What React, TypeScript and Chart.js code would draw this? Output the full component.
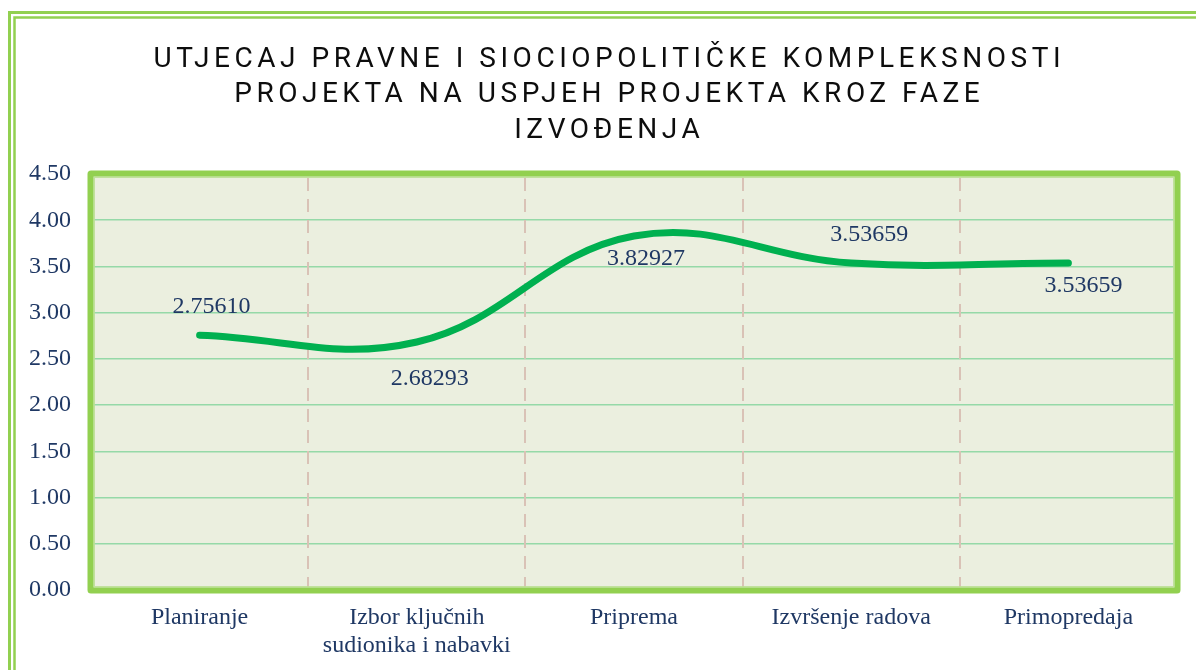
import React, { useEffect, useRef } from 'react';
import { Chart, registerables } from 'chart.js';

Chart.register(...registerables);

const titleLines = [
  'UTJECAJ PRAVNE I SIOCIOPOLITIČKE KOMPLEKSNOSTI',
  'PROJEKTA NA USPJEH PROJEKTA KROZ FAZE',
  'IZVOĐENJA',
];
const categories = [
  ['Planiranje'],
  ['Izbor ključnih', 'sudionika i nabavki'],
  ['Priprema'],
  ['Izvršenje radova'],
  ['Primopredaja'],
];
const values = [2.7561, 2.68293, 3.82927, 3.53659, 3.53659];
const yMin = 0;
const yMax = 4.5;
const yStep = 0.5;
// label placement relative to each point (dx, dy)
const labelOffsets = [
  [12, -29],
  [13, 37],
  [12, 23],
  [18, -28],
  [15, 23],
];

const TEXT_COLOR = '#1F3864';
const FRAME_GREEN = '#92D050';
const LINE_GREEN = '#00B050';
const SERIF = '"Liberation Serif", "Times New Roman", serif';

const decorPlugin = {
  id: 'decor',
  beforeDraw(chart: any) {
    const { ctx, chartArea: a, width, height } = chart;
    ctx.save();
    ctx.fillStyle = '#ffffff';
    ctx.fillRect(0, 0, width, height);
    // outer double frame
    ctx.strokeStyle = FRAME_GREEN;
    ctx.lineWidth = 3;
    ctx.strokeRect(9.5, 12.5, width + 200, height + 200);
    ctx.lineWidth = 2.5;
    ctx.strokeRect(14.5, 17.5, width + 200, height + 200);
    // plot background
    ctx.fillStyle = '#EBEFDF';
    ctx.fillRect(a.left, a.top, a.right - a.left, a.bottom - a.top);
    ctx.restore();
  },
  beforeDatasetsDraw(chart: any) {
    const { ctx, chartArea: a } = chart;
    const xs = chart.scales.x;
    ctx.save();
    ctx.strokeStyle = '#D9C2B6';
    ctx.lineWidth = 2;
    ctx.setLineDash([13, 8]);
    for (let i = 1; i < categories.length; i++) {
      const x = Math.round((xs.getPixelForTick(i - 1) + xs.getPixelForTick(i)) / 2);
      ctx.beginPath();
      ctx.moveTo(x, a.top + 4);
      ctx.lineTo(x, a.bottom);
      ctx.stroke();
    }
    ctx.setLineDash([]);
    // plot border
    ctx.lineJoin = 'round';
    ctx.strokeStyle = FRAME_GREEN;
    ctx.lineWidth = 7;
    ctx.strokeRect(a.left, a.top, a.right - a.left, a.bottom - a.top);
    ctx.strokeStyle = '#C2E2A0';
    ctx.lineWidth = 1.5;
    ctx.strokeRect(a.left + 3, a.top + 3, a.right - a.left - 6, a.bottom - a.top - 6);
    ctx.restore();
  },
  afterDatasetsDraw(chart: any) {
    const { ctx } = chart;
    const meta = chart.getDatasetMeta(0);
    ctx.save();
    ctx.font = `24px ${SERIF}`;
    ctx.fillStyle = TEXT_COLOR;
    ctx.textAlign = 'center';
    ctx.textBaseline = 'middle';
    meta.data.forEach((pt: any, i: number) => {
      const [dx, dy] = labelOffsets[i];
      ctx.fillText(values[i].toFixed(5), pt.x + dx, pt.y + dy);
    });
    ctx.restore();
  },
  afterDraw(chart: any) {
    const { ctx } = chart;
    ctx.save();
    ctx.font = '400 28px Roboto, "DejaVu Sans", sans-serif';
    ctx.fillStyle = '#0D0D0D';
    ctx.textAlign = 'center';
    ctx.textBaseline = 'alphabetic';
    (ctx as any).letterSpacing = '0px';
    const w = ctx.measureText(titleLines[0]).width;
    const sp = (907 - w) / (titleLines[0].length - 1);
    (ctx as any).letterSpacing = `${sp}px`;
    const cx = 607;
    const baselines = [66.5, 102, 137.5];
    titleLines.forEach((line, i) => {
      ctx.fillText(line, cx + sp / 2, baselines[i]);
    });
    ctx.restore();
  },
};

export default function App() {
  const canvasRef = useRef<HTMLCanvasElement | null>(null);

  useEffect(() => {
    if (!canvasRef.current) return;
    const chart = new Chart(canvasRef.current, {
      type: 'line',
      data: {
        labels: categories as any,
        datasets: [
          {
            data: values,
            borderColor: LINE_GREEN,
            borderWidth: 7,
            tension: 0.4,
            pointRadius: 0,
            pointHoverRadius: 0,
            borderCapStyle: 'round',
            borderJoinStyle: 'round',
            fill: false,
            clip: false as any,
          },
        ],
      },
      options: {
        animation: false,
        responsive: true,
        maintainAspectRatio: false,
        layout: { padding: { top: 174, right: 19, left: 0, bottom: 0 } },
        plugins: {
          legend: { display: false },
          tooltip: { enabled: false },
          title: { display: false },
        },
        scales: {
          x: {
            type: 'category',
            offset: true,
            grid: { display: false, drawTicks: false },
            border: { display: false },
            ticks: {
              color: TEXT_COLOR,
              font: { family: SERIF, size: 24, lineHeight: 1.17 },
              padding: 14,
              maxRotation: 0,
              autoSkip: false,
            },
            afterFit: (s: any) => {
              s.height = 80;
            },
          },
          y: {
            min: yMin,
            max: yMax,
            grid: { color: '#95D9A8', lineWidth: 1.5, drawTicks: false },
            border: { display: false },
            ticks: {
              stepSize: yStep,
              color: TEXT_COLOR,
              font: { family: SERIF, size: 24 },
              padding: 20,
              callback: (v: any) => Number(v).toFixed(2),
            },
            afterFit: (s: any) => {
              s.width = 91;
            },
          },
        },
      },
      plugins: [decorPlugin],
    });
    return () => chart.destroy();
  }, []);

  return (
    <div style={{ position: 'fixed', left: 0, top: 0, width: 1196, height: 670 }}>
      <canvas ref={canvasRef} />
    </div>
  );
}
